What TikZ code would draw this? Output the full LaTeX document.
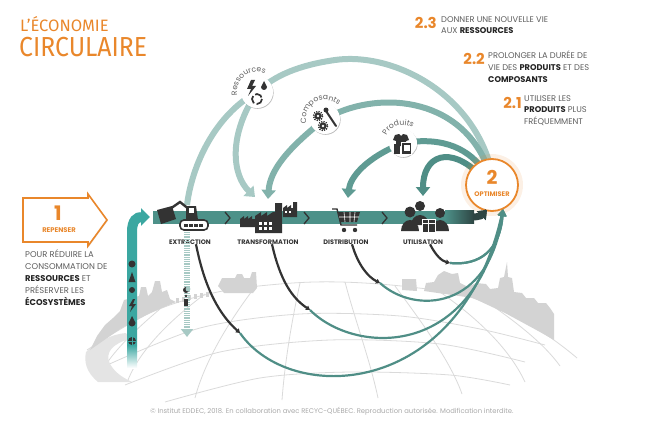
\documentclass[tikz,border=0pt]{standalone}
\usepackage{fontspec}
\setmainfont{Poppins}
\newfontfamily\titlefont{Fira Sans}
\newfontfamily\titlecond[FakeStretch=0.9]{Fira Sans}
\usetikzlibrary{arrows.meta,shadows,decorations.text,positioning}

\definecolor{orng}{HTML}{E9872B}
\definecolor{tealbar}{HTML}{4D9189}
\definecolor{bardark}{HTML}{2E4543}
\definecolor{tealbright}{HTML}{3BA7A1}
\definecolor{tealres}{HTML}{A7C9C4}
\definecolor{tealcomp}{HTML}{82B2AB}
\definecolor{tealprod}{HTML}{5F9B93}
\definecolor{tealuse}{HTML}{4F8E86}
\definecolor{icondark}{HTML}{333333}
\definecolor{txtgray}{HTML}{5E5E5E}
\definecolor{txtdark}{HTML}{222222}
\definecolor{footgray}{HTML}{A8A8A8}
\definecolor{globegray}{HTML}{DADADA}
\definecolor{citygray}{HTML}{D3D3D3}
\definecolor{roadgray}{HTML}{E4E4E4}

\newcommand\keyword[1]{\textbf{\color{txtdark}#1}}

\begin{document}
\begin{tikzpicture}[x=1pt,y=-1pt,
  globeline/.style={draw=globegray, line width=0.8pt},
  city/.style={fill=citygray},
  stagelabel/.style={anchor=base, inner sep=0pt, text=icondark, font=\bfseries\fontsize{6.5}{7}\selectfont},
  bigarc/.style={line width=6pt, -{Triangle[length=9pt,width=14pt]}},
  lowarc/.style={line width=2.2pt, draw=tealuse, -{Triangle[length=7pt,width=8pt]}},
  blackarc/.style={line width=2.2pt, draw=icondark, -{Triangle[length=4pt,width=5pt]}},
  hub/.style={circle, fill=white, minimum size=#1, inner sep=0pt,
    drop shadow={opacity=0.3, shadow xshift=0.6pt, shadow yshift=-0.8pt}},
  hublabel/.style={decorate, decoration={text along path, text align=center,
    text={|\fontsize{7.6}{8}\selectfont\color{txtgray}|#1}}},
  goaltext/.style={anchor=north west, align=left, inner sep=0pt, text=txtgray,
    font=\fontsize{8.3}{11.7}\selectfont},
  goalnum/.style={anchor=base east, inner sep=0pt, text=orng, font=\bfseries\fontsize{15}{15}\selectfont},
]
\useasboundingbox (0,0) rectangle (660,425);

% globe
\draw[globeline] plot[smooth, tension=0.6] coordinates {(87,350) (150,313) (213,293) (280,284) (340,282) (410,287) (473,298) (540,331) (577,358)};
\draw[globeline] plot[smooth] coordinates {(105,366) (200,328) (300,314) (400,316) (480,329) (545,345)};
\draw[globeline] plot[smooth] coordinates {(125,385) (220,352) (330,340) (440,344) (525,362)};
\draw[globeline] plot[smooth] coordinates {(165,402) (260,378) (350,372) (450,375) (510,385)};
\draw[globeline] (160,309) .. controls (135,330) and (115,350) .. (105,366);
\draw[globeline] (205,294) .. controls (170,320) and (140,350) .. (128,380);
\draw[globeline] (255,287) .. controls (230,320) and (205,360) .. (195,398);
\draw[globeline] (300,283) .. controls (292,320) and (285,360) .. (282,400);
\draw[globeline] (345,282) .. controls (355,320) and (370,360) .. (378,398);
\draw[globeline] (395,286) .. controls (420,320) and (450,360) .. (462,394);
\draw[globeline] (440,292) .. controls (480,320) and (510,350) .. (525,382);
\draw[globeline] (490,304) .. controls (520,325) and (545,345) .. (560,366);

% skyline
\fill[roadgray] (86,352) .. controls (96,342) and (112,334) .. (126,333) -- (130,339)
  .. controls (114,343) and (104,352) .. (110,364) .. controls (116,374) and (124,378) .. (132,382)
  -- (98,382) .. controls (86,372) and (84,362) .. (86,352);
\fill[city] (90,350) -- (97,336) -- (105,325) -- (113,318) -- (120,311) -- (124,300) -- (139,296)
  -- (141,287) -- (146,287) -- (148,296) -- (152,292) -- (155,281) -- (160,281) -- (162,292)
  -- (167,290) -- (170,299) -- (176,302) -- (150,313) -- (120,329) -- cycle;
\foreach \x in {176,182,188,194,200,206} \fill[city] (\x,303-0.2*\x+35) rectangle ++(3,-5);
\fill[city] (218,286) -- (222,278) -- (235,278) -- (237,274) -- (242,274) -- (244,278) -- (250,278)
  -- (252,272) -- (256,272) -- (257,288) -- (253,293) -- (224,293) -- cycle;
\fill[city] (402,290) -- (402,279) -- (416,279) -- (417,291) -- cycle;
\fill[city] (424,291) -- (426,283) -- (434,282) -- (438,275) -- (444,271) -- (452,274) -- (458,273)
  -- (460,283) -- (468,287) -- (476,283) -- (486,284) -- (490,289) -- (498,288) -- (500,278)
  -- (504,277) -- (507,262) -- (508,277) -- (512,278) -- (514,292) -- (522,293) -- (526,298)
  -- (534,298) -- (538,303) -- (546,303) -- (550,308) -- (554,314) -- (554,340) -- (540,332)
  -- (505,313) -- (473,298) -- cycle;

% stages
\node[stagelabel] (ext) at (190,244) {EXTRACTION};
\node[stagelabel] (trans) at (268,244) {TRANSFORMATION};
\node[stagelabel] (dist) at (346,244) {DISTRIBUTION};
\node[stagelabel] (util) at (423,244) {UTILISATION};

\coordinate (optc) at (492,185);
\coordinate (optin) at (503,209);
\coordinate (ka) at (240,333);
\coordinate (kb) at (310,310);
\coordinate (kc) at (380,283);
\coordinate (kd) at (450,263);

% lower loops
\draw[lowarc] (ka) .. controls (290,405) and (460,400) .. (optin);
\draw[lowarc] (kb) .. controls (355,355) and (475,360) .. (optin);
\draw[lowarc] (kc) .. controls (415,315) and (490,310) .. (optin);
\draw[lowarc] (kd) .. controls (480,266) and (500,250) .. (optin);
\draw[blackarc] ([xshift=6pt]ext.south) .. controls (205,290) and (220,315) .. (ka);
\draw[blackarc] ([xshift=4pt]trans.south) .. controls (280,280) and (292,298) .. (kb);
\draw[blackarc] ([xshift=6pt]dist.south) .. controls (358,265) and (368,277) .. (kc);
\draw[blackarc] ([xshift=7pt]util.south) .. controls (436,256) and (442,261) .. (kd);

% left input arrow
\draw[tealbright, line width=10pt, -{Triangle[length=9pt,width=17pt]}] (132,345) -- (132,232)
  .. controls (132,220) and (137,217) .. (150,217);
\shade[top color=tealbright, bottom color=white] (127,345) rectangle (137,368);
\fill[icondark] (132,264) circle[radius=3.5];
\fill[icondark] (128.5,282) -- (132,272) -- (135.5,282) -- cycle;
\fill[icondark] (132,290) circle[radius=3];
\fill[icondark] (133,299) -- (129,306) -- (132,306) -- (130,312) -- (136,304) -- (133,304) -- (135,299) -- cycle;
\fill[icondark] (132,316) -- (128.5,323) arc[start angle=180, end angle=0, radius=3.5] -- cycle;
\fill[icondark] (132,341) circle[radius=4];
\draw[tealbright, line width=0.6pt] (128,341) -- (136,341) (132,337) -- (132,345);

% main bar
\fill[tealbar] (153,210.5) rectangle (445,223.5);
\shade[left color=tealbar, right color=bardark] (445,210.5) rectangle (474,223.5);
\coordinate (barend) at (487,210);
\draw[bardark, line width=7pt, -{Triangle[length=8pt,width=12pt]}] (473,217) .. controls (479,217) and (482,215) .. (barend);

% resources loop
\coordinate (r0) at (491,168);
\coordinate (rdown) at (187,205);
\coordinate (rtip) at (255,197);
\node[hub=32pt] (res) at (257,92) {};
\draw[tealres, line width=6pt] (r0) .. controls (470,90) and (390,52) .. (335,60)
  .. controls (300,65) and (275,75) .. (res.center);
\draw[tealres, line width=6pt] (res.center) .. controls (215,115) and (192,165) .. (rdown);
\draw[bigarc, tealres] (res.center) .. controls (228,135) and (232,175) .. (rtip);
\draw[tealres, line width=6pt, dash pattern=on 1pt off 0.8pt, -{Triangle[length=8pt,width=12pt]}] (187,232) -- (187,337);
\fill[icondark] (186,290) circle[radius=3];
\fill[tealres] (188,289) circle[radius=2.4];
\fill[icondark] (184,299) rectangle (188,306);
\fill[icondark] (186,296) circle[radius=1.3];

% components loop
\coordinate (c0) at (488,168);
\coordinate (ctip) at (268,199);
\node[hub=30pt] (comp) at (325,119) {};
\draw[tealcomp, line width=6pt] (c0) .. controls (460,95) and (375,90) .. (comp.center);
\draw[bigarc, tealcomp] (comp.center) .. controls (288,148) and (270,170) .. (ctip);

% products loop
\coordinate (p0) at (485,172);
\coordinate (ptip) at (348,198);
\node[hub=28pt] (prod) at (403,143) {};
\draw[tealprod, line width=6pt] (p0) .. controls (470,150) and (445,136) .. (prod.center);
\draw[bigarc, tealprod] (prod.center) .. controls (365,158) and (350,178) .. (ptip);

% use loop
\coordinate (u0) at (480,175);
\coordinate (utip) at (423,196);
\draw[bigarc, tealuse] (u0) .. controls (450,145) and (423,155) .. (utip);

% hubs on top
\node[hub=32pt] at (res) {};
\node[hub=30pt] at (comp) {};
\node[hub=28pt] at (prod) {};
\path[hublabel=Ressources] (res) ++(158:20) arc[start angle=158, end angle=305, radius=20];
\path[hublabel=Composants] (comp) ++(166:19) arc[start angle=166, end angle=314, radius=19];
\path[hublabel=Produits] (prod) ++(198:18) arc[start angle=198, end angle=308, radius=18];

% hub icons
\fill[icondark] (251,80) -- (247,89) -- (251,89) -- (248,96) -- (256,86) -- (252,86) -- (255,80) -- cycle;
\fill[icondark] (264,81) -- (261,87) arc[start angle=180, end angle=0, radius=3] -- cycle;
\draw[icondark, line width=1.7pt, dash pattern=on 8pt off 2.5pt] (257,99) circle[radius=5];
\fill[icondark] (318,116) circle[radius=3.6];
\draw[icondark, line width=1.5pt, dash pattern=on 1.2pt off 1.2pt] (318,116) circle[radius=4.6];
\fill[white] (318,116) circle[radius=1.3];
\fill[icondark] (323,126) circle[radius=3.6];
\draw[icondark, line width=1.5pt, dash pattern=on 1.2pt off 1.2pt] (323,126) circle[radius=4.6];
\fill[white] (323,126) circle[radius=1.3];
\draw[icondark, line width=2pt, line cap=round] (326,111) -- (336,126);
\fill[icondark] (326,110) circle[radius=2.5];
\fill[icondark] (395,135) -- (399,134) -- (401,136) -- (403,134) -- (407,135) -- (409,140) -- (406,141) -- (406,146) -- (396,146) -- (396,141) -- (393,140) -- cycle;
\fill[icondark] (394,144) rectangle (400,154);
\fill[white] (401,142) rectangle (412,155);
\fill[icondark] (402,143) rectangle (411,154);
\fill[white] (403.5,145) rectangle (409.5,151);

% optimise hub
\fill[orng, opacity=0.12] (optc) circle[radius=31];
\node[circle, draw=orng, line width=1.8pt, fill=white, minimum size=52pt] (opt) at (optc) {};
\node[text=orng, font=\bfseries\fontsize{19}{19}\selectfont] (two) at (492,177) {2};
\node[text=orng, font=\bfseries\fontsize{6.6}{7}\selectfont] (optlabel) at (492,194) {OPTIMISER};
\draw[lowarc] (kd) .. controls (480,266) and (500,250) .. (optin);
\draw[bardark, line width=7pt, -{Triangle[length=8pt,width=12pt]}] (480,216) .. controls (482,215) .. (barend);

% stage icons
\fill[icondark] (157,210) -- (172,206) -- (176,219) -- (161,224) -- cycle;
\draw[icondark, line width=2.4pt] (170,209) -- (180,202) -- (190,210);
\fill[icondark] (186,206) -- (196,206) -- (198,220) -- (186,220) -- cycle;
\fill[white] (189,208) rectangle (194,213);
\draw[icondark, line width=1.6pt, fill=white, rounded corners=4pt] (180,220) rectangle (208,230);
\foreach \x in {184,189,194,199} \fill[icondark] (\x,223.5) rectangle ++(3.5,3);
\fill[icondark] (240,227) -- (240,219) -- (244,216) -- (244,219) -- (248,216) -- (248,219) -- (252,216) -- (252,219) -- (256,219) -- (256,227) -- cycle;
\fill[icondark] (255,233) -- (255,216) -- (261,212) -- (261,216) -- (267,212) -- (267,216) -- (273,212) -- (275,212) -- (275,203) -- (282,203) -- (282,233) -- cycle;
\foreach \x in {259,264,269} \foreach \y in {222,227} \fill[white] (\x,\y) rectangle ++(3,3);
\fill[icondark] (283,217) -- (283,208) -- (287,205) -- (287,208) -- (291,205) -- (291,208) -- (293,208) -- (293,202) -- (297,202) -- (297,217) -- cycle;
\foreach \x in {285,289} \fill[white] (\x,211) rectangle ++(2,2);
\draw[icondark, line width=1.4pt] (332,209) -- (337,209) -- (341,225) -- (357,225);
\fill[icondark] (338,212) -- (360,212) -- (357,222) -- (340,222) -- cycle;
\draw[white, line width=0.6pt] (339,217) -- (359,217) (344,212) -- (345,222) (350,212) -- (350,222) (355,212) -- (354,222);
\fill[icondark] (344,230) circle[radius=2.2];
\fill[icondark] (355,230) circle[radius=2.2];
\foreach \x in {228,307,385} \draw[icondark, line width=1.3pt] (\x-3,212) -- (\x+2,218) -- (\x-3,224);
\fill[icondark] (420,206) circle[radius=5];
\fill[icondark] (411,225) arc[start angle=180, end angle=360, x radius=9, y radius=10] -- cycle;
\fill[icondark] (410,212) circle[radius=5.5];
\fill[icondark] (440,213) circle[radius=5];
\fill[icondark] (401,231) arc[start angle=180, end angle=360, x radius=9, y radius=11] -- cycle;
\fill[icondark] (431,231) arc[start angle=180, end angle=360, x radius=9, y radius=11] -- cycle;
\draw[white, line width=1pt, fill=icondark] (422,219) rectangle (435,232);
\draw[white, line width=0.6pt] (422,223) -- (435,223) (428.5,219) -- (428.5,232);

% title
\node[anchor=base west, inner sep=0pt, text=orng, font=\titlefont\fontsize{16.5}{16.5}\selectfont] (eco) at (20,32) {L’ÉCONOMIE};
\node[anchor=base west, inner sep=0pt, text=orng, font=\titlecond\fontsize{27.5}{27.5}\selectfont] (circ) at (19,57) {CIRCULAIRE};

% goals
\node[goalnum] (n23) at (437,29) {2.3};
\node[goaltext] (t23) at (441,16) {DONNER UNE NOUVELLE VIE\\AUX \keyword{RESSOURCES}};
\node[goalnum] (n22) at (485,65) {2.2};
\node[goaltext] (t22) at (488,51) {PROLONGER LA DURÉE DE\\VIE DES \keyword{PRODUITS} ET DES\\\keyword{COMPOSANTS}};
\node[goalnum] (n21) at (522,108) {2.1};
\node[goaltext] (t21) at (524,95) {UTILISER LES\\\keyword{PRODUITS} PLUS\\FRÉQUEMMENT};

% rethink
\draw[orng, line width=1.6pt, fill=white, drop shadow={opacity=0.2, shadow xshift=0.8pt, shadow yshift=-0.8pt}]
  (23,198) -- (88,198) -- (88,194) -- (107,220) -- (88,246) -- (88,242) -- (23,242) -- cycle;
\node[text=orng, font=\bfseries\fontsize{20}{20}\selectfont] (one) at (58,213) {1};
\node[text=orng, font=\bfseries\fontsize{6.8}{7}\selectfont] (rethink) at (59,230) {REPENSER};
\node[goaltext, font=\fontsize{8.4}{11.8}\selectfont] (why) at (25,250) {POUR RÉDUIRE LA\\CONSOMMATION DE\\\keyword{RESSOURCES} ET\\PRÉSERVER LES\\\keyword{ÉCOSYSTÈMES}};

% credit
\node[anchor=base, inner sep=0pt, text=footgray, font=\fontsize{6.8}{7}\selectfont] (credit) at (332,413) {© Institut EDDEC, 2018. En collaboration avec RECYC-QUÉBEC. Reproduction autorisée. Modification interdite.};
\end{tikzpicture}
\end{document}
